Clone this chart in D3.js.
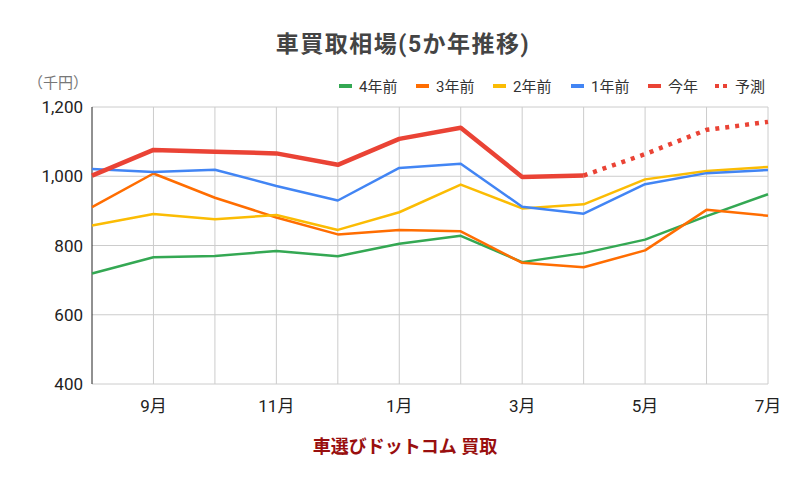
<!DOCTYPE html>
<html>
<head>
<meta charset="utf-8">
<script src="https://cdn.jsdelivr.net/npm/d3@7"></script>
<style>
  body { margin: 0; background: #fff; }
  svg { font-family: Roboto, "Noto Sans CJK JP", sans-serif; }
</style>
</head>
<body>
<svg id="chart"></svg>
<script>
const months = ['8月', '9月', '10月', '11月', '12月', '1月', '2月', '3月', '4月', '5月', '6月', '7月']
const yTicks = [400, 600, 800, 1000, 1200]

const y4 = [719, 766, 770, 784, 769, 805, 828, 752, 778, 817, 885, 948]
const y3 = [911, 1008, 938, 881, 832, 845, 841, 750, 737, 786, 903, 886]
const y2 = [858, 891, 876, 888, 845, 896, 976, 907, 919, 991, 1015, 1027]
const y1 = [1021, 1012, 1019, 972, 930, 1024, 1036, 912, 892, 977, 1009, 1018]
const thisYear = [1002, 1076, 1071, 1066, 1033, 1108, 1140, 998, 1002, null, null, null]
const forecast = [null, null, null, null, null, null, null, null, 1002, 1064, 1134, 1157]

const series = [
  { name: '4年前', values: y4, color: '#34a853', width: 2.5 },
  { name: '3年前', values: y3, color: '#ff6d01', width: 2.5 },
  { name: '2年前', values: y2, color: '#fbbc04', width: 2.5 },
  { name: '1年前', values: y1, color: '#4285f4', width: 2.5 },
  { name: '今年', values: thisYear, color: '#ea4335', width: 4.5 },
  { name: '予測', values: forecast, color: '#ea4335', width: 4.5, dash: '4,6' },
]

const W = 811, H = 478
const M = { left: 92, right: 768, top: 107, bottom: 384 }

const svg = d3.select('#chart').attr('width', W).attr('height', H)

const x = d3.scalePoint().domain(months).range([M.left, M.right])
const y = d3.scaleLinear().domain([400, 1200]).range([M.bottom, M.top])

// gridlines
svg.append('g')
  .selectAll('line')
  .data(yTicks)
  .join('line')
    .attr('x1', M.left).attr('x2', M.right)
    .attr('y1', d => y(d)).attr('y2', d => y(d))
    .attr('stroke', '#cccccc')
    .attr('stroke-width', 1)

svg.append('g')
  .selectAll('line')
  .data(months.slice(1))
  .join('line')
    .attr('x1', d => x(d)).attr('x2', d => x(d))
    .attr('y1', M.top).attr('y2', M.bottom)
    .attr('stroke', '#cccccc')
    .attr('stroke-width', 1)

// y axis line
svg.append('line')
  .attr('x1', M.left).attr('x2', M.left)
  .attr('y1', M.top).attr('y2', M.bottom)
  .attr('stroke', '#222')
  .attr('stroke-width', 1)

// y tick labels
svg.append('g')
  .selectAll('text')
  .data(yTicks)
  .join('text')
    .attr('x', M.left - 9)
    .attr('y', d => y(d) + 6)
    .attr('text-anchor', 'end')
    .attr('fill', '#222')
    .attr('font-size', '17px')
    .text(d3.format(','))

// x tick labels (every other month)
svg.append('g')
  .selectAll('text')
  .data(months.filter((m, i) => i % 2 === 1))
  .join('text')
    .attr('x', d => x(d))
    .attr('y', M.bottom + 28)
    .attr('text-anchor', 'middle')
    .attr('fill', '#222')
    .attr('font-size', '17px')
    .text(d => d)

// lines
const line = d3.line()
  .defined(d => d.v != null)
  .x(d => x(d.m))
  .y(d => y(d.v))

svg.append('g')
  .selectAll('path')
  .data(series)
  .join('path')
    .attr('d', s => line(s.values.map((v, i) => ({ m: months[i], v }))))
    .attr('fill', 'none')
    .attr('stroke', s => s.color)
    .attr('stroke-width', s => s.width)
    .attr('stroke-dasharray', s => s.dash || null)
    .attr('stroke-linejoin', 'round')

// title
svg.append('text')
  .attr('x', 403).attr('y', 52)
  .attr('text-anchor', 'middle')
  .attr('fill', '#444')
  .attr('font-size', '23px')
  .attr('font-weight', 'bold')
  .attr('letter-spacing', '1.5px')
  .text('車買取相場(5か年推移)')

// unit
svg.append('text')
  .attr('x', 28).attr('y', 88)
  .attr('fill', '#777')
  .attr('font-size', '15px')
  .text('（千円）')

// legend
const legendX = [339, 416, 493, 571, 648, 715]
const legend = svg.append('g')
  .selectAll('g')
  .data(series)
  .join('g')
    .attr('transform', (s, i) => `translate(${legendX[i]},86)`)

legend.append('line')
  .attr('x1', 0).attr('x2', 13)
  .attr('y1', 0).attr('y2', 0)
  .attr('stroke', s => s.color)
  .attr('stroke-width', 4)
  .attr('stroke-dasharray', s => s.dash ? '4,4' : null)

legend.append('text')
  .attr('x', 20).attr('y', 6)
  .attr('fill', '#333')
  .attr('font-size', '15px')
  .text(s => s.name)

// footer
svg.append('text')
  .attr('x', 405).attr('y', 453)
  .attr('text-anchor', 'middle')
  .attr('fill', '#990f0f')
  .attr('font-size', '18px')
  .attr('font-weight', 'bold')
  .text('車選びドットコム 買取')
</script>
</body>
</html>
